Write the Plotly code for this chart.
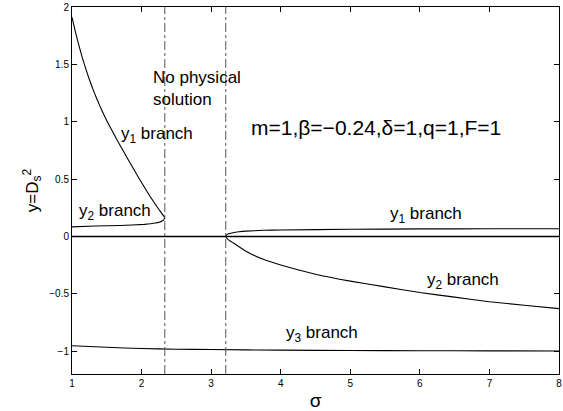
import plotly.graph_objects as go

# Roots y = D_s^2 of the dispersion relation versus sigma
# (m=1, beta=-0.24, delta=1, q=1, F=1)

# y1 branch, low-sigma side (ends at the fold near sigma = 2.334)
sig_y1_left = [1.00, 1.05, 1.10, 1.15, 1.20, 1.25, 1.30, 1.35, 1.40, 1.45, 1.50,
               1.60, 1.70, 1.80, 1.90, 2.00, 2.10, 2.20, 2.25, 2.30, 2.334]
y1_left = [1.91, 1.78, 1.663, 1.555, 1.458, 1.368, 1.285, 1.209, 1.138, 1.072, 1.009,
           0.894, 0.784, 0.677, 0.572, 0.469, 0.369, 0.278, 0.234, 0.192, 0.163]

# y2 branch, low-sigma side
sig_y2_left = [1.00, 1.33, 1.69, 2.04, 2.20, 2.25, 2.30, 2.32, 2.334]
y2_left = [0.083, 0.090, 0.095, 0.105, 0.116, 0.123, 0.137, 0.147, 0.163]

# y1 branch, high-sigma side (starts at the fold near sigma = 3.21)
sig_y1_right = [3.21, 3.22, 3.25, 3.30, 3.40, 3.50, 3.75, 4.00, 5.00, 6.00, 7.00, 8.00]
y1_right = [0.000, 0.012, 0.022, 0.030, 0.040, 0.046, 0.053, 0.056, 0.062, 0.065,
            0.066, 0.067]

# y2 branch, high-sigma side
sig_y2_right = [3.21, 3.22, 3.25, 3.30, 3.50, 3.75, 4.00, 4.50, 5.00, 5.50, 6.00,
                6.50, 7.00, 7.50, 8.00]
y2_right = [0.000, -0.012, -0.030, -0.050, -0.130, -0.200, -0.250, -0.330, -0.390,
            -0.440, -0.490, -0.530, -0.570, -0.600, -0.630]

# y3 branch over the full range
sig_y3 = [1.0, 1.5, 2.0, 2.5, 3.0, 4.0, 5.0, 6.0, 7.0, 8.0]
y3 = [-0.954, -0.967, -0.978, -0.984, -0.987, -0.992, -0.995, -0.997, -0.998, -0.999]

# trivial root y = 0
sig_zero = [1.0, 8.0]
y_zero = [0.0, 0.0]

# limits of the region without physical solution
sig_limits = [2.334, 3.21]

x_ticks = [1, 2, 3, 4, 5, 6, 7, 8]
y_ticks = [-1, -0.5, 0, 0.5, 1, 1.5, 2]
x_range = [1, 8]
y_range = [-1.2, 2]

FONT = "Liberation Sans, Arial, Helvetica, sans-serif"
line = dict(color="black", width=1.1)

fig = go.Figure()
for xs, ys in [(sig_y1_left, y1_left), (sig_y2_left, y2_left),
               (sig_y1_right, y1_right), (sig_y2_right, y2_right),
               (sig_y3, y3)]:
    fig.add_trace(go.Scatter(x=xs, y=ys, mode="lines",
                             line=dict(line, shape="spline", smoothing=0.3),
                             hoverinfo="skip", showlegend=False))
fig.add_trace(go.Scatter(x=sig_zero, y=y_zero, mode="lines",
                         line=dict(color="black", width=1.5), showlegend=False))
for s in sig_limits:
    fig.add_trace(go.Scatter(x=[s, s], y=y_range, mode="lines",
                             line=dict(color="#555555", width=1, dash="dashdot"),
                             showlegend=False))

labels = [
    (2.139, 1.286, "No physical<br>solution", 17),
    (1.671, 0.88, "y<sub>1</sub> branch", 17),
    (1.067, 0.215, "y<sub>2</sub> branch", 17),
    (3.539, 0.95, "m=1,β=−0.24,δ=1,q=1,F=1", 21),
    (5.549, 0.185, "y<sub>1</sub> branch", 17),
    (6.081, -0.39, "y<sub>2</sub> branch", 17),
    (4.053, -0.855, "y<sub>3</sub> branch", 17),
]
for x, y, t, size in labels:
    fig.add_annotation(x=x, y=y, text=t, showarrow=False, xanchor="left",
                       yanchor="middle", align="left",
                       font=dict(family=FONT, size=size, color="black"))

axis_common = dict(showgrid=False, zeroline=False, showline=True, linecolor="black",
                   linewidth=1, mirror="ticks", ticks="inside", ticklen=5,
                   tickcolor="black", ticklabeloverflow="allow",
                   tickfont=dict(family=FONT, size=10, color="black"))

fig.update_xaxes(range=x_range, tickvals=x_ticks,
                 title=dict(text="σ", font=dict(family=FONT, size=19, color="black"), standoff=6),
                 **axis_common)
fig.update_yaxes(range=y_range, tickvals=y_ticks,
                 title=dict(text="y=D<sub>s</sub><sup>2</sup>",
                            font=dict(family=FONT, size=17, color="black"), standoff=6),
                 **axis_common)

fig.update_layout(width=563, height=411, margin=dict(l=72, r=1, t=6, b=37),
                  paper_bgcolor="white", plot_bgcolor="white", font=dict(family=FONT))

fig.write_html("out.html")
